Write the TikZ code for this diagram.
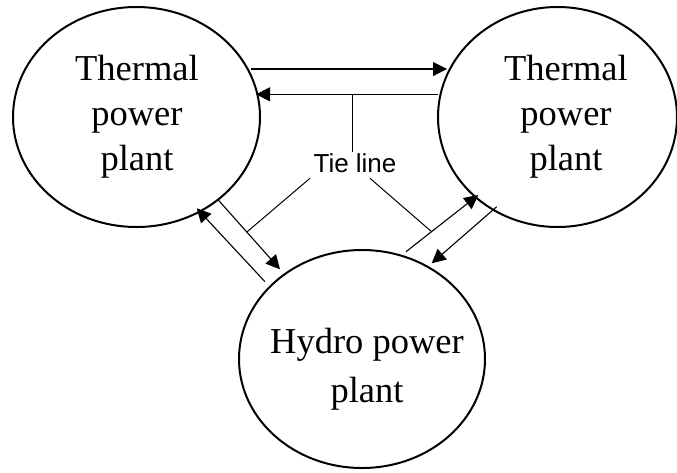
\documentclass[tikz,border=0pt]{standalone}
\usepackage{fontspec}
\setmainfont{Liberation Serif}
\newfontfamily\tiefont{Liberation Sans}
\usetikzlibrary{shapes.geometric,arrows.meta}
\tikzset{
  plant/.style={draw, ellipse, line width=2pt, inner sep=0pt},
  plantlabel/.style={align=center, inner sep=0pt, font=\fontsize{36.5}{45}\selectfont},
  flow/.style={line width=1.1pt, -{Triangle[length=14pt,width=14pt]}},
  tie/.style={line width=1pt},
}
\begin{document}
\begin{tikzpicture}[x=1pt,y=-1pt]
\useasboundingbox (0,0) rectangle (677,472);
% plants
\node[plant, minimum width=247pt, minimum height=220pt] (L) at (136.5,117) {};
\node[plant, minimum width=239pt, minimum height=220pt] (R) at (557.5,117) {};
\node[plant, minimum width=246pt, minimum height=218pt] (B) at (362,359) {};
\node[plantlabel] (Lt) at (137,117) {Thermal\\power\\plant};
\node[plantlabel] (Rt) at (566,117) {Thermal\\power\\plant};
\node[plantlabel, font=\fontsize{36.5}{49}\selectfont] (Bt) at (367,369) {Hydro power\\plant};
% tie-line label
\node[anchor=base, inner sep=0pt, font=\tiefont\fontsize{26}{30}\selectfont] (tie) at (355,172.7) {Tie line};
% connector end points
\coordinate (a1s) at (250.7,69);
\coordinate (a1e) at (447,69);
\coordinate (a2s) at (438,94.3);
\coordinate (a2e) at (256,94.3);
\coordinate (a3s) at (218.3,200);
\coordinate (a3e) at (280,269.3);
\coordinate (a4s) at (265,281.7);
\coordinate (a4e) at (196.7,208.3);
\coordinate (a5s) at (406,251.7);
\coordinate (a5e) at (478.3,195);
\coordinate (a6s) at (496.7,206.7);
\coordinate (a6e) at (431.7,263.3);
\coordinate (tv1) at (352,94.3);
\coordinate (tv2) at (352,151.7);
\coordinate (tl1) at (310,178.3);
\coordinate (tl2) at (247.2,231.7);
\coordinate (tr1) at (370,178.3);
\coordinate (tr2) at (431.6,231.7);
% power flows
\draw[flow] (a1s) -- (a1e);
\draw[flow] (a2s) -- (a2e);
\draw[flow] (a3s) -- (a3e);
\draw[flow] (a4s) -- (a4e);
\draw[flow] (a5s) -- (a5e);
\draw[flow] (a6s) -- (a6e);
% tie-line pointers
\draw[tie] (tv1) -- (tv2);
\draw[tie] (tl1) -- (tl2);
\draw[tie] (tr1) -- (tr2);
\end{tikzpicture}
\end{document}
